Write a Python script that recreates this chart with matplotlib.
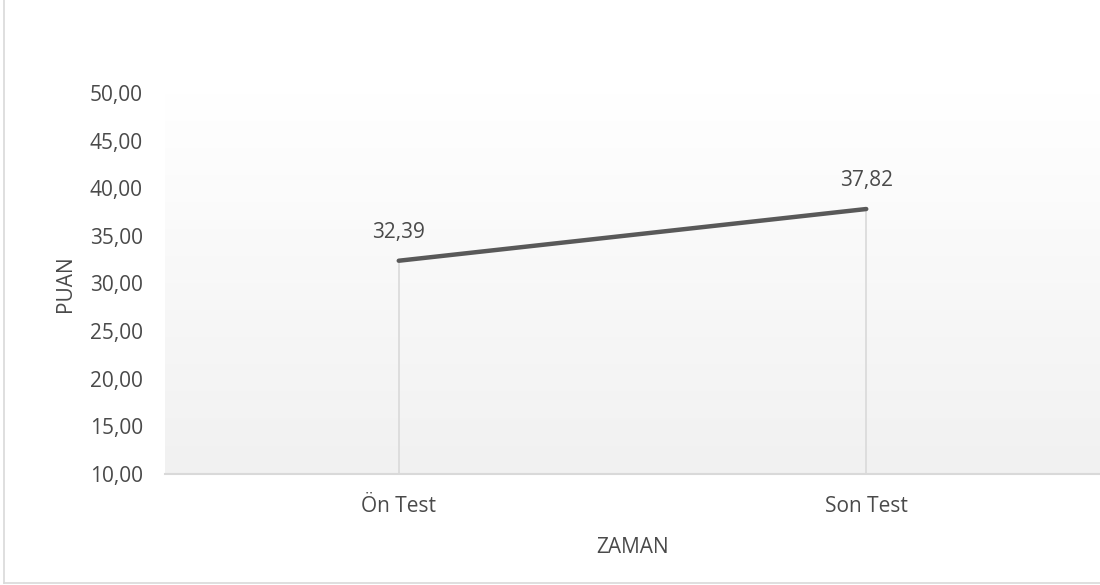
import numpy as np
import matplotlib
matplotlib.use("Agg")
from matplotlib import pyplot as plt
from matplotlib.lines import Line2D

# Chart data
categories = ["Ön Test", "Son Test"]
scores = [32.39, 37.82]
yticks = [10, 15, 20, 25, 30, 35, 40, 45, 50]

plt.rcParams['font.family'] = ['Open Sans', 'DejaVu Sans']

W, H = 1100, 585
fig = plt.figure(figsize=(W / 100, H / 100), dpi=100)

# plot area in pixels: left 165, right 1100, top 93, bottom 474
ax = fig.add_axes([165 / W, 1 - 474 / H, (1100 - 165) / W, (474 - 93) / H])

x = np.arange(len(categories))
ax.set_xlim(-0.5, len(categories) - 0.5)
ax.set_ylim(10, 50)

# background gradient: white at top, light grey at bottom
grad = np.linspace(1.0, 0.0, 256).reshape(-1, 1)
top = np.array([1.0, 1.0, 1.0])
bot = np.array([0.945, 0.945, 0.945])
img = bot + (top - bot) * grad[..., None]
ax.imshow(img, extent=[-0.5, len(categories) - 0.5, 10, 50], aspect='auto',
          origin='upper', zorder=0, interpolation='bilinear')

# drop lines
for xi, v in zip(x, scores):
    ax.plot([xi, xi], [10, v], color='#d9d9d9', lw=1.2, zorder=1)

ax.plot(x, scores, color='#595959', lw=3.2, solid_capstyle='round', zorder=3)

for xi, v in zip(x, scores):
    ax.annotate(f"{v:.2f}".replace('.', ','), (xi, v), xytext=(0, 13),
                textcoords='offset points', ha='center', va='bottom',
                fontsize=15, color='#4a4a4a')

ax.set_xticks(x)
ax.set_xticklabels(categories)
ax.set_yticks(yticks)
ax.set_yticklabels([f"{t:.2f}".replace('.', ',') for t in yticks])
ax.tick_params(axis='both', length=0, labelsize=15, labelcolor='#4a4a4a')
ax.tick_params(axis='x', pad=16)
ax.tick_params(axis='y', pad=16)

for s in ['top', 'right', 'left']:
    ax.spines[s].set_visible(False)
ax.spines['bottom'].set_color('#d9d9d9')
ax.spines['bottom'].set_linewidth(1.5)

ax.set_ylabel("PUAN", fontsize=15, color='#4a4a4a', labelpad=10)
ax.set_xlabel("ZAMAN", fontsize=15, color='#4a4a4a', labelpad=14)

# outer chart border (left and bottom visible)
fig.add_artist(Line2D([3.5 / W, 3.5 / W], [1 - 583 / H, 1], color='#d9d9d9', lw=1.2))
fig.add_artist(Line2D([3.5 / W, 1], [1 - 583 / H, 1 - 583 / H], color='#d9d9d9', lw=1.2))

fig.savefig("out.png", dpi=100, facecolor='white')
